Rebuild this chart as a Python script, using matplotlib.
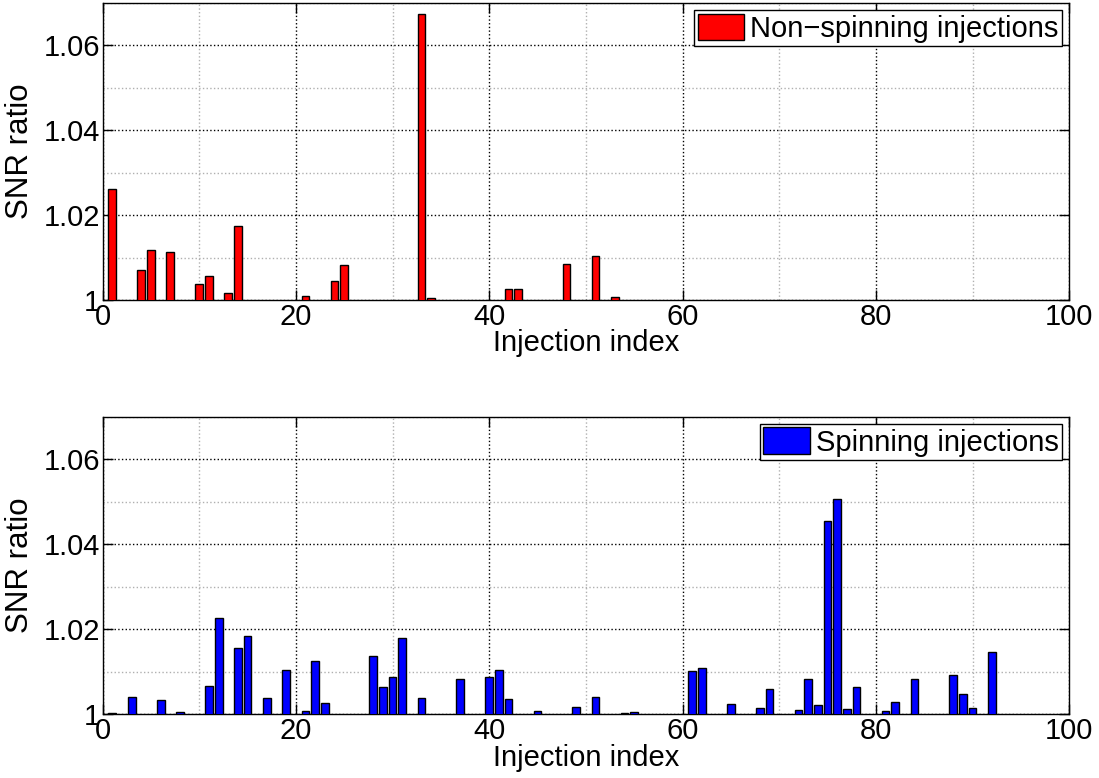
import matplotlib
matplotlib.use("Agg")
import matplotlib.pyplot as plt
from matplotlib.ticker import MultipleLocator

plt.rcParams['font.family'] = ['Liberation Sans', 'DejaVu Sans']

# Non-spinning injections: index -> SNR ratio (others equal to 1)
nonspin_idx = [1, 4, 5, 7, 10, 11, 13, 14, 21, 24, 25, 33, 34, 42, 43, 48, 51, 53]
nonspin_val = [1.0261, 1.0070, 1.0118, 1.0113, 1.0038, 1.0056, 1.0016, 1.0175,
               1.0009, 1.0044, 1.0082, 1.0675, 1.0004, 1.0026, 1.0027, 1.0086,
               1.0104, 1.0006]

# Spinning injections
spin_idx = [1, 3, 6, 8, 11, 12, 14, 15, 17, 19, 21, 22, 23, 28, 29, 30, 31, 33,
            37, 40, 41, 42, 45, 49, 51, 54, 55, 61, 62, 65, 68, 69, 72, 73, 74,
            75, 76, 77, 78, 81, 82, 84, 88, 89, 90, 92]
spin_val = [1.0004, 1.0041, 1.0034, 1.0005, 1.0067, 1.0227, 1.0156, 1.0184,
            1.0038, 1.0104, 1.0008, 1.0126, 1.0027, 1.0137, 1.0065, 1.0088,
            1.0180, 1.0039, 1.0083, 1.0087, 1.0104, 1.0035, 1.0008, 1.0016,
            1.0040, 1.0003, 1.0006, 1.0101, 1.0108, 1.0024, 1.0014, 1.0059,
            1.0009, 1.0082, 1.0021, 1.0455, 1.0506, 1.0012, 1.0064, 1.0008,
            1.0029, 1.0082, 1.0092, 1.0048, 1.0015, 1.0146]

yticks = [1.0, 1.02, 1.04, 1.06]
ytick_labels = ['1', '1.02', '1.04', '1.06']
xticks = [0, 20, 40, 60, 80, 100]

FS = 21
YFS = 22.5

fig = plt.figure(figsize=(10.99, 7.78), dpi=100)
ax1 = fig.add_axes([0.0934, 0.6144, 0.8795, 0.3817])
ax2 = fig.add_axes([0.0934, 0.0819, 0.8795, 0.3825])


def style(ax, idx, val, color, label):
    ax.bar(idx, val, width=0.8, bottom=0, color=color,
           edgecolor='black', linewidth=1.0, label=label, zorder=3)
    ax.set_xlim(0, 100)
    ax.set_ylim(1.0, 1.07)
    ax.set_xticks(xticks)
    ax.set_xticklabels([str(t) for t in xticks])
    ax.set_yticks(yticks)
    ax.set_yticklabels(ytick_labels)
    ax.xaxis.set_minor_locator(MultipleLocator(10))
    ax.yaxis.set_minor_locator(MultipleLocator(0.01))
    ax.grid(True, which='major', linestyle=':', color='black', linewidth=1.0, zorder=0)
    ax.grid(True, which='minor', linestyle=':', color='#b0b0b0', linewidth=1.0, zorder=0)
    ax.set_axisbelow(True)
    ax.tick_params(which='major', direction='in', length=7, width=1,
                   labelsize=FS, top=True, right=True, pad=2)
    ax.tick_params(which='minor', length=0)
    for s in ax.spines.values():
        s.set_linewidth(1.0)
    ax.set_xlabel('Injection index', fontsize=FS, labelpad=-1)
    ax.set_ylabel('SNR ratio', fontsize=YFS, labelpad=6)
    leg = ax.legend(loc='upper right', fontsize=FS, fancybox=False,
                    framealpha=1, edgecolor='black', borderaxespad=0.25,
                    handlelength=1.6, handleheight=1.0, handletextpad=0.2,
                    borderpad=0.12)
    leg.get_frame().set_linewidth(1.0)


style(ax1, nonspin_idx, nonspin_val, '#ff0000', 'Non\u2212spinning injections')
style(ax2, spin_idx, spin_val, '#0000ff', 'Spinning injections')

fig.savefig('out.png', dpi=100)
